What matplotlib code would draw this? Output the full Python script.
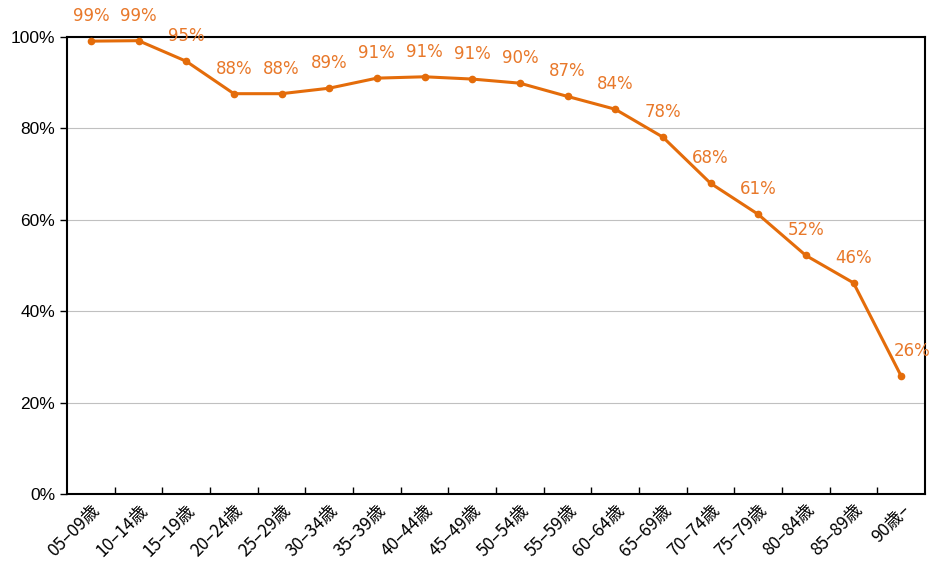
import matplotlib.pyplot as plt
import numpy as np

plt.rcParams['font.family'] = ['Noto Sans CJK JP', 'DejaVu Sans']

# age groups and share (%)
ages = ["05–09歳", "10–14歳", "15–19歳", "20–24歳", "25–29歳", "30–34歳",
        "35–39歳", "40–44歳", "45–49歳", "50–54歳", "55–59歳", "60–64歳",
        "65–69歳", "70–74歳", "75–79歳", "80–84歳", "85–89歳", "90歳–"]
share = [99.1, 99.2, 94.7, 87.6, 87.6, 88.8, 91.0, 91.3, 90.8, 89.9,
         87.0, 84.2, 78.1, 68.0, 61.2, 52.2, 46.2, 25.8]

orange = "#E46C0A"
label_col = "#E8782A"

fig = plt.figure(figsize=(9.32, 5.66), dpi=100)
ax = fig.add_axes([0.0719, 0.1272, 0.9206, 0.8074])

x = np.arange(len(ages))
ax.plot(x, share, color=orange, lw=2.2, marker="o", ms=4.5, zorder=3)

for i, v in enumerate(share):
    dx = 11 if i == len(share) - 1 else 0
    ax.annotate("%d%%" % round(v), (x[i], v), xytext=(dx, 16),
                textcoords="offset pixels",
                ha="center", va="bottom", color=label_col, fontsize=12,
                family=["DejaVu Sans"], annotation_clip=False)

ax.set_xlim(-0.5, len(ages) - 0.5)
ax.set_ylim(0, 100)
ax.set_yticks(np.arange(0, 101, 20))
ax.set_yticklabels(["%d%%" % t for t in range(0, 101, 20)], fontsize=12.5,
                   family=["Liberation Sans"])
ax.yaxis.grid(True, color="#C0C0C0", lw=0.8)
ax.set_axisbelow(True)

# category boundaries as ticks
ax.set_xticks(np.arange(0.5, len(ages) - 0.5, 1), minor=False)
ax.set_xticklabels([])
ax.tick_params(axis="x", direction="in", length=5, width=1)
ax.tick_params(axis="y", direction="out", length=5, width=1)
ax.set_xticks(x, minor=True)
ax.set_xticklabels(ages, minor=True, rotation=45, ha="right",
                   rotation_mode="anchor", fontsize=12.5)
ax.tick_params(axis="x", which="minor", length=0, pad=5)

for s in ax.spines.values():
    s.set_linewidth(1.5)
    s.set_color("black")

plt.savefig("out.png", dpi=100)
